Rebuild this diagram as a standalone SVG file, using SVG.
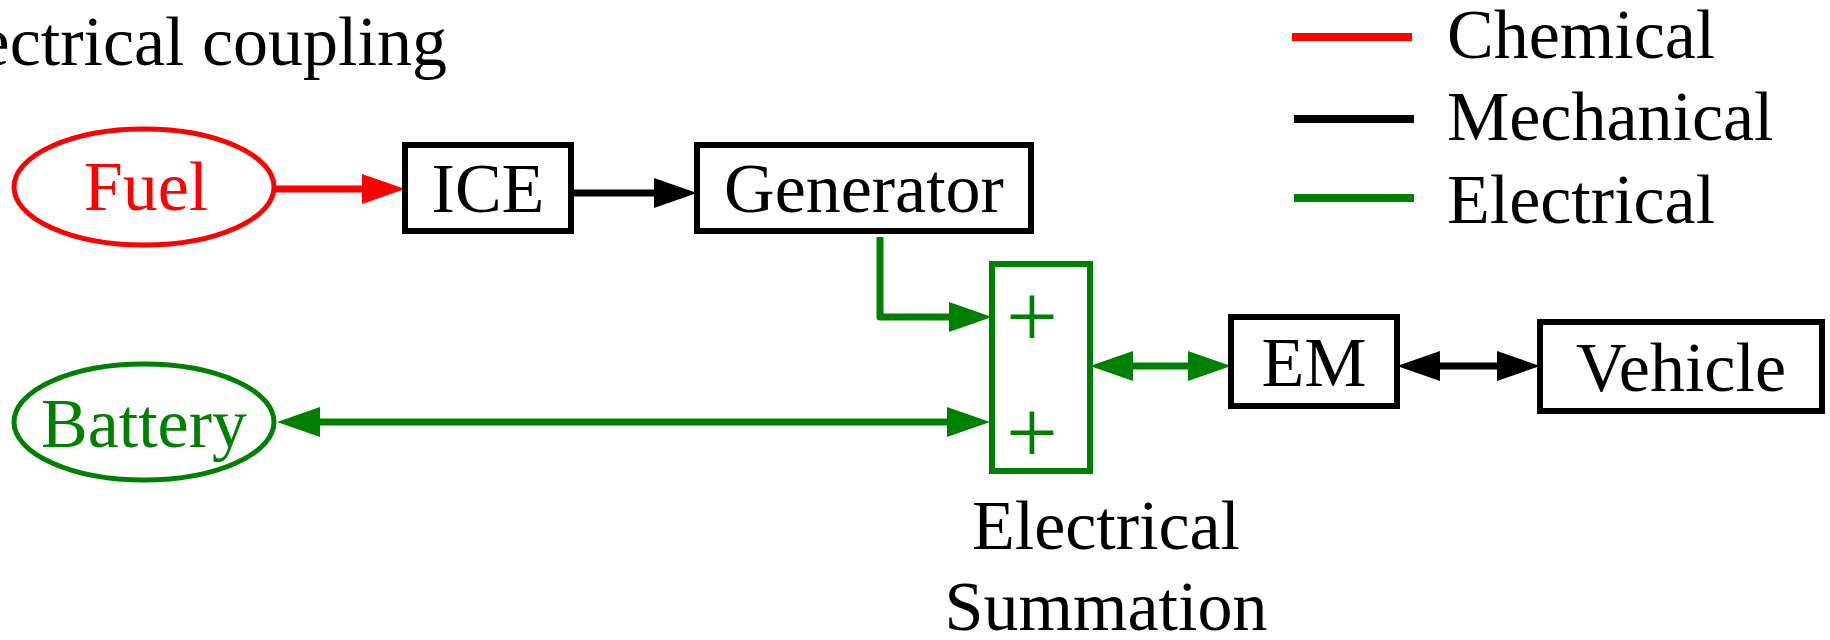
<svg xmlns="http://www.w3.org/2000/svg" width="1830" height="640" viewBox="0 0 1830 640">
<defs>
<style>
text{font-family:"Liberation Serif","Times New Roman",serif;font-size:70px;}
.c{text-anchor:middle;}
.plus{font-size:92px;}
.box{fill:#fff;stroke:#000;stroke-width:6;}
.gbox{fill:#fff;stroke:#008000;stroke-width:6;}
.red{stroke:#ff0000;}
.blk{stroke:#000;}
.grn{stroke:#008000;}
.ln{fill:none;stroke-width:7;stroke-linejoin:round;}
</style>
<marker id="ar" markerUnits="userSpaceOnUse" markerWidth="46" markerHeight="34" viewBox="0 -17 46 34" refX="22" refY="0" orient="auto-start-reverse"><path d="M0,-15 L43,0 L0,15 z" fill="#ff0000"/></marker>
<marker id="ak" markerUnits="userSpaceOnUse" markerWidth="46" markerHeight="34" viewBox="0 -17 46 34" refX="22" refY="0" orient="auto-start-reverse"><path d="M0,-15 L43,0 L0,15 z" fill="#000"/></marker>
<marker id="ag" markerUnits="userSpaceOnUse" markerWidth="46" markerHeight="34" viewBox="0 -17 46 34" refX="22" refY="0" orient="auto-start-reverse"><path d="M0,-15 L43,0 L0,15 z" fill="#008000"/></marker>
</defs>
<rect width="1830" height="640" fill="#fff"/>
<text x="447" y="65" text-anchor="end">ectrical coupling</text>
<g id="legend">
<line x1="1292" y1="37" x2="1412" y2="37" class="red" stroke-width="8"/>
<line x1="1294" y1="119" x2="1414" y2="119" class="blk" stroke-width="8"/>
<line x1="1294" y1="198" x2="1414" y2="198" class="grn" stroke-width="8"/>
<text x="1447" y="58">Chemical</text>
<text x="1447" y="140">Mechanical</text>
<text x="1447" y="223">Electrical</text>
</g>
<g id="connectors">
<path class="ln red" d="M274,189 L384,189" marker-end="url(#ar)"/>
<path class="ln blk" d="M571,193 L676,193" marker-end="url(#ak)"/>
<path class="ln grn" d="M880,237 L880,317 L971,317" marker-end="url(#ag)"/>
<path class="ln grn" d="M298,422 L969,422" marker-start="url(#ag)" marker-end="url(#ag)"/>
<path class="ln grn" d="M1111,366 L1210,366" marker-start="url(#ag)" marker-end="url(#ag)"/>
<path class="ln blk" d="M1418,366 L1519,366" marker-start="url(#ak)" marker-end="url(#ak)"/>
</g>
<g id="fuel">
<ellipse cx="144" cy="187" rx="130" ry="58" fill="none" stroke="#ff0000" stroke-width="5"/>
<text x="146" y="210" class="c" fill="#ff0000">Fuel</text>
</g>
<g id="ice">
<rect x="405" y="145" width="166" height="86" class="box"/>
<text x="488" y="212" class="c">ICE</text>
</g>
<g id="generator">
<rect x="697" y="145" width="334" height="86" class="box"/>
<text x="864" y="212" class="c">Generator</text>
</g>
<g id="battery">
<ellipse cx="144" cy="422" rx="130" ry="58" fill="none" stroke="#008000" stroke-width="5"/>
<text x="144" y="447" class="c" fill="#008000">Battery</text>
</g>
<g id="summation">
<rect x="992" y="264" width="98" height="207" class="gbox"/>
<text x="1032" y="347" class="c plus" fill="#008000">+</text>
<text x="1032" y="463" class="c plus" fill="#008000">+</text>
<text x="1106" y="549" class="c">Electrical</text>
<text x="1106" y="630" class="c">Summation</text>
</g>
<g id="em">
<rect x="1231" y="317" width="166" height="89" class="box"/>
<text x="1314" y="386" class="c">EM</text>
</g>
<g id="vehicle">
<rect x="1540" y="322" width="282" height="89" class="box"/>
<text x="1681" y="391" class="c">Vehicle</text>
</g>
</svg>
